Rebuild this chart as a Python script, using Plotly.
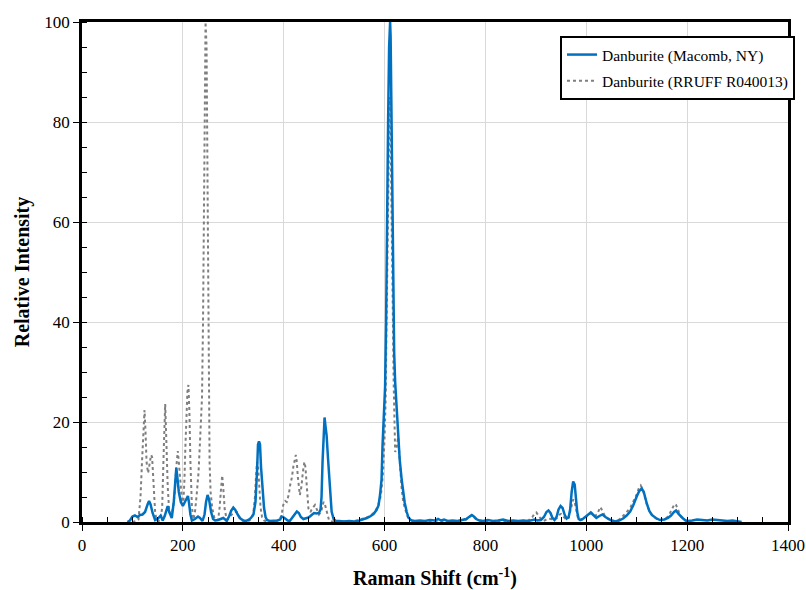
import plotly.graph_objects as go

# Danburite (Macomb, NY) - measured spectrum
macomb_shift = [90, 95, 100, 105, 110, 115, 120, 125, 130, 133, 136, 140, 145, 150, 156, 160, 164, 168, 170, 173,
                178, 182, 185, 187, 189, 192, 196, 200, 204, 208, 210, 212, 215, 218, 224, 230, 234, 239, 243, 246,
                249, 252, 256, 260, 264, 270, 276, 280, 284, 287, 292, 296, 300, 304, 308, 313, 320, 325, 330, 335,
                340, 344, 347, 349, 351, 353, 355, 358, 361, 364, 367, 372, 380, 388, 393, 396, 399, 404, 408, 412,
                417, 422, 426, 430, 434, 439, 444, 449, 453, 457, 460, 465, 470, 473, 475, 477, 479, 481, 483, 485,
                488, 490, 493, 495, 499, 503, 510, 520, 530, 540, 550, 558, 565, 571, 578, 584, 588, 591, 594, 596,
                599, 601, 603, 604, 606, 607, 609, 610, 611, 612, 613, 614, 615, 616, 617, 619, 621, 623, 625, 627,
                630, 634, 637, 640, 644, 647, 651, 654, 660, 670, 680, 690, 700, 706, 712, 718, 725, 735, 745, 755,
                762, 766, 770, 773, 777, 782, 788, 795, 805, 815, 825, 835, 845, 855, 865, 875, 885, 892, 898, 903,
                910, 916, 921, 925, 929, 933, 937, 941, 945, 949, 953, 957, 961, 965, 968, 971, 974, 977, 979, 982,
                985, 988, 993, 997, 1003, 1009, 1014, 1020, 1026, 1032, 1038, 1044, 1050, 1057, 1065, 1073, 1080, 1087, 1093, 1100,
                1105, 1110, 1114, 1120, 1125, 1130, 1138, 1146, 1155, 1162, 1168, 1174, 1178, 1183, 1188, 1192, 1197, 1202, 1210, 1220,
                1230, 1240, 1250, 1260, 1270, 1280, 1290, 1300, 1308]
macomb_int = [0, 0.3, 1.1, 1.3, 1.0, 1.4, 1.5, 2.0, 3.5, 4.2, 3.5, 1.8, 0.4, 0.6, 1.3, 0.3, 1.2, 2.8, 3.2, 2.0,
              0.8, 4.0, 9.5, 10.8, 9.0, 6.0, 4.0, 3.2, 4.0, 5.0, 5.2, 4.0, 1.5, 0.3, 0.6, 1.1, 0.8, 0.2, 1.5, 4.0,
              5.4, 4.5, 2.0, 0.6, 0.3, 0.4, 0.6, 0.8, 0.5, 0.2, 1.2, 2.3, 2.9, 2.4, 1.6, 0.8, 0.3, 0.2, 0.4, 0.8,
              1.5, 4.0, 10.0, 15.5, 16.1, 15.5, 11.0, 6.0, 2.8, 1.0, 0.4, 0.2, 0.2, 0.3, 0.5, 1.1, 1.0, 0.5, 0.3, 0.2,
              0.8, 1.6, 2.1, 1.8, 1.0, 0.6, 0.7, 0.9, 1.2, 1.6, 1.8, 1.7, 1.8, 2.5, 5.0, 12.0, 18.0, 20.9, 19.0, 17.4,
              12.5, 8.8, 4.5, 2.1, 0.6, 0.2, 0.2, 0.1, 0.2, 0.1, 0.3, 0.5, 0.8, 1.1, 1.6, 2.4, 3.3, 5.4, 8.5, 15.4,
              21.0, 27.0, 40.0, 54.0, 70.0, 80.0, 95.0, 99.0, 100.0, 97.0, 88.0, 80.0, 70.0, 54.0, 45.0, 34.0, 28.0, 24.0, 20.0, 17.0,
              12.5, 8.4, 5.5, 3.8, 2.0, 1.0, 0.5, 0.3, 0.2, 0.3, 0.2, 0.4, 0.3, 0.6, 0.3, 0.5, 0.2, 0.3, 0.2, 0.4,
              0.6, 0.9, 1.2, 1.4, 1.1, 0.6, 0.3, 0.2, 0.4, 0.2, 0.3, 0.5, 0.2, 0.3, 0.2, 0.3, 0.2, 0.3, 0.5, 0.3,
              0.4, 1.0, 2.0, 2.3, 1.8, 0.8, 0.4, 1.0, 2.5, 3.2, 2.8, 1.5, 0.7, 1.0, 2.5, 6.0, 8.1, 7.5, 5.0, 2.0,
              0.6, 0.4, 0.6, 0.9, 1.5, 1.9, 1.4, 0.8, 1.2, 1.5, 1.0, 0.6, 0.3, 0.1, 0.3, 0.7, 1.3, 2.1, 3.3, 5.1,
              6.2, 6.7, 6.0, 3.7, 2.2, 1.4, 0.8, 0.4, 0.5, 0.8, 1.3, 2.0, 2.3, 1.6, 1.0, 0.7, 0.3, 0.2, 0.3, 0.5,
              0.4, 0.3, 0.5, 0.4, 0.3, 0.2, 0.3, 0.2, 0]

# Danburite (RRUFF R040013) - reference spectrum
rruff_shift = [100, 108, 112, 116, 119, 122, 124, 126, 128, 131, 134, 137, 139, 142, 145, 148, 152, 156, 159, 162,
               165, 167, 170, 173, 177, 181, 184, 187, 190, 192, 195, 198, 201, 203, 205, 207, 209, 211, 213, 215,
               218, 221, 224, 227, 231, 234, 238, 240, 242, 243, 245, 247, 249, 251, 253, 255, 258, 262, 266, 270,
               273, 276, 278, 280, 283, 287, 292, 297, 302, 307, 312, 318, 325, 332, 337, 340, 343, 345, 347, 349,
               351, 354, 357, 361, 366, 375, 385, 392, 396, 399, 403, 406, 410, 413, 416, 419, 422, 424, 426, 428,
               432, 435, 438, 441, 443, 446, 449, 453, 457, 462, 466, 470, 474, 477, 479, 481, 484, 487, 490, 495,
               505, 515, 525, 535, 545, 553, 560, 567, 573, 580, 586, 591, 594, 597, 600, 602, 604, 606, 607, 609,
               610, 611, 612, 614, 616, 618, 620, 621, 623, 625, 627, 629, 632, 634, 637, 640, 644, 647, 652, 658,
               670, 680, 700, 720, 740, 755, 762, 768, 772, 776, 781, 787, 795, 810, 830, 850, 870, 885, 893, 897,
               901, 905, 910, 915, 920, 925, 930, 936, 942, 947, 950, 955, 960, 965, 968, 971, 974, 977, 980, 983,
               987, 993, 999, 1004, 1010, 1016, 1021, 1025, 1028, 1032, 1037, 1043, 1050, 1057, 1064, 1070, 1076, 1082, 1088, 1094,
               1100, 1104, 1108, 1112, 1116, 1120, 1126, 1132, 1140, 1148, 1155, 1161, 1166, 1171, 1175, 1178, 1182, 1187, 1192, 1198,
               1205]
rruff_int = [0, 0.2, 0.5, 5.0, 12.0, 19.0, 22.4, 18.0, 12.0, 9.8, 11.5, 13.4, 13.0, 8.0, 2.0, 0.3, 0.2, 0.5, 3.0, 14.0,
             23.6, 17.0, 7.0, 2.0, 1.5, 3.0, 6.0, 11.0, 14.2, 12.0, 7.0, 4.5, 4.0, 8.0, 15.0, 22.0, 26.0, 27.4, 22.0, 12.0,
             3.0, 0.5, 2.0, 5.0, 9.8, 16.0, 25.0, 40.0, 65.0, 80.0, 100.0, 95.0, 60.0, 30.0, 12.0, 6.0, 3.0, 1.0, 0.3, 0.5,
             3.0, 7.0, 9.3, 7.0, 2.5, 0.5, 0.8, 1.5, 2.0, 2.0, 1.0, 0.3, 0.2, 0.3, 0.8, 2.0, 5.0, 9.0, 12.0, 11.5,
             8.0, 3.0, 1.0, 0.3, 0.1, 0.1, 0.2, 0.5, 1.5, 3.4, 4.2, 4.0, 5.5, 7.5, 8.8, 11.0, 13.0, 13.4, 12.0, 9.0,
             5.4, 7.0, 10.0, 12.0, 11.0, 6.0, 2.7, 2.0, 2.8, 3.4, 2.5, 1.5, 2.0, 3.5, 4.0, 3.8, 2.5, 1.0, 0.3, 0.1,
             0.1, 0.2, 0.1, 0.2, 0.3, 0.5, 0.8, 1.0, 1.3, 2.0, 3.0, 4.5, 6.5, 10.0, 17.0, 24.0, 40.0, 58.0, 68.0, 80.0,
             85.0, 84.0, 78.0, 65.0, 45.0, 28.0, 18.0, 14.0, 14.5, 16.0, 17.0, 14.0, 9.0, 6.5, 4.0, 2.8, 1.5, 0.8, 0.4, 0.2,
             0.2, 0.1, 0.2, 0.1, 0.2, 0.3, 0.5, 1.0, 1.3, 1.1, 0.6, 0.3, 0.2, 0.1, 0.2, 0.1, 0.2, 0.3, 1.0, 1.6,
             1.9, 1.3, 0.6, 0.2, 0.4, 0.7, 0.6, 0.4, 0.8, 1.5, 1.6, 1.0, 0.5, 0.8, 2.0, 3.5, 4.5, 4.0, 2.5, 1.0,
             0.4, 0.5, 0.9, 1.5, 1.8, 1.2, 1.5, 2.5, 3.0, 2.2, 1.2, 0.6, 0.3, 0.2, 0.4, 0.9, 1.5, 2.2, 3.0, 4.2,
             5.5, 6.7, 7.3, 6.5, 5.0, 3.5, 2.0, 1.2, 0.6, 0.4, 0.6, 1.0, 1.8, 2.8, 3.6, 3.4, 2.3, 1.2, 0.5, 0.2,
             0.0]

x_ticks = [0, 200, 400, 600, 800, 1000, 1200, 1400]
y_ticks = [0, 20, 40, 60, 80, 100]

SERIF = "Palatino Linotype, Book Antiqua, Palatino, Liberation Serif, serif"

fig = go.Figure()
fig.add_trace(go.Scatter(
    x=rruff_shift, y=rruff_int, mode="lines", name="Danburite (RRUFF R040013)",
    legendgroup="b", legendrank=2,
    line=dict(color="#7f7f7f", width=2, dash="dot"), cliponaxis=True))
fig.add_trace(go.Scatter(
    x=macomb_shift, y=macomb_int, mode="lines", name="Danburite (Macomb, NY)",
    legendgroup="a", legendrank=1,
    line=dict(color="#0070C0", width=2.5), cliponaxis=True))

fig.update_layout(
    width=806, height=590,
    margin=dict(l=82, r=18, t=22, b=68, autoexpand=False),
    paper_bgcolor="white", plot_bgcolor="white",
    font=dict(family=SERIF, color="black"),
    showlegend=True,
    legend=dict(
        x=1.0099, y=0.972, xanchor="right", yanchor="top",
        bgcolor="white", bordercolor="black", borderwidth=2,
        font=dict(family=SERIF, size=15.5, color="black"),
        traceorder="grouped", tracegroupgap=3,
    ),
)

fig.update_xaxes(
    range=[0, 1400], tickvals=x_ticks, ticktext=[str(v) for v in x_ticks],
    showgrid=True, gridcolor="#d9d9d9", gridwidth=1,
    showline=True, linecolor="black", linewidth=2.5, mirror=True,
    ticks="outside", ticklen=6, tickwidth=1, tickcolor="black",
    minor=dict(ticks="inside", dtick=50, tick0=0, ticklen=5, tickcolor="black", showgrid=False),
    tickfont=dict(family=SERIF, size=17, color="black"),
    title=dict(text="<b>Raman Shift (cm<sup>-1</sup>)</b>", font=dict(family=SERIF, size=20, color="black"), standoff=20),
    zeroline=False, automargin=False,
)
fig.update_yaxes(
    range=[0, 100], tickvals=y_ticks, ticktext=[str(v) for v in y_ticks],
    showgrid=True, gridcolor="#d9d9d9", gridwidth=1,
    showline=True, linecolor="black", linewidth=2.5, mirror=True,
    ticks="outside", ticklen=6, tickwidth=1, tickcolor="black",
    minor=dict(ticks="inside", dtick=5, tick0=0, ticklen=5, tickcolor="black", showgrid=False),
    tickfont=dict(family=SERIF, size=17, color="black"),
    title=dict(text="<b>Relative Intensity</b>", font=dict(family=SERIF, size=20, color="black"), standoff=10),
    zeroline=False, automargin=False,
)

fig.write_html("out.html", config={"displayModeBar": False},
               post_script="document.body.style.margin='0';")
